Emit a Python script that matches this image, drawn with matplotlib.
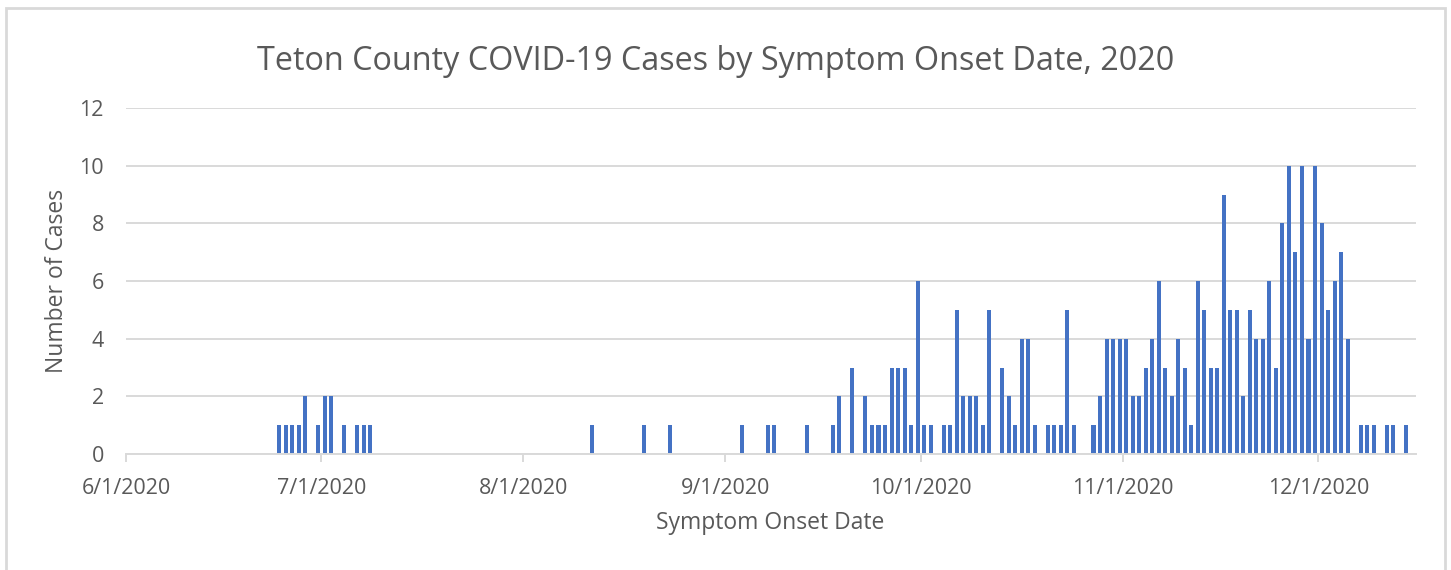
import datetime as dt

import matplotlib
matplotlib.use("Agg")
import matplotlib.pyplot as plt
import matplotlib.dates as mdates
from matplotlib.patches import Rectangle
from matplotlib.ticker import FuncFormatter

# cases per symptom onset date (days with no bar are 0)
onset_dates = [
    "2020-06-24", "2020-06-25", "2020-06-26", "2020-06-27", "2020-06-28", "2020-06-30",
    "2020-07-01", "2020-07-02", "2020-07-04", "2020-07-06", "2020-07-07", "2020-07-08",
    "2020-08-11", "2020-08-19", "2020-08-23",
    "2020-09-03", "2020-09-07", "2020-09-08", "2020-09-13", "2020-09-17", "2020-09-18",
    "2020-09-20", "2020-09-22", "2020-09-23", "2020-09-24", "2020-09-25", "2020-09-26",
    "2020-09-27", "2020-09-28", "2020-09-29", "2020-09-30",
    "2020-10-01", "2020-10-02", "2020-10-04", "2020-10-05", "2020-10-06", "2020-10-07",
    "2020-10-08", "2020-10-09", "2020-10-10", "2020-10-11", "2020-10-13", "2020-10-14",
    "2020-10-15", "2020-10-16", "2020-10-17", "2020-10-18", "2020-10-20", "2020-10-21",
    "2020-10-22", "2020-10-23", "2020-10-24", "2020-10-27", "2020-10-28", "2020-10-29",
    "2020-10-30", "2020-10-31",
    "2020-11-01", "2020-11-02", "2020-11-03", "2020-11-04", "2020-11-05", "2020-11-06",
    "2020-11-07", "2020-11-08", "2020-11-09", "2020-11-10", "2020-11-11", "2020-11-12",
    "2020-11-13", "2020-11-14", "2020-11-15", "2020-11-16", "2020-11-17", "2020-11-18",
    "2020-11-19", "2020-11-20", "2020-11-21", "2020-11-22", "2020-11-23", "2020-11-24",
    "2020-11-25", "2020-11-26", "2020-11-27", "2020-11-28", "2020-11-29", "2020-11-30",
    "2020-12-01", "2020-12-02", "2020-12-03", "2020-12-04", "2020-12-05", "2020-12-07",
    "2020-12-08", "2020-12-09", "2020-12-11", "2020-12-12", "2020-12-14",
]
cases = [
    1, 1, 1, 1, 2, 1,
    2, 2, 1, 1, 1, 1,
    1, 1, 1,
    1, 1, 1, 1, 1, 2,
    3, 2, 1, 1, 1, 3,
    3, 3, 1, 6,
    1, 1, 1, 1, 5, 2,
    2, 2, 1, 5, 3, 2,
    1, 4, 4, 1, 1, 1,
    1, 5, 1, 1, 2, 4,
    4, 4,
    4, 2, 2, 3, 4, 6,
    3, 2, 4, 3, 1, 6,
    5, 3, 3, 9, 5, 5,
    2, 5, 4, 4, 6, 3,
    8, 10, 7, 10, 4, 10,
    8, 5, 6, 7, 4, 1,
    1, 1, 1, 1, 1,
]

x_start = "2020-06-01"
x_end = "2020-12-16"
y_ticks = [0, 2, 4, 6, 8, 10, 12]

title = "Teton County COVID-19 Cases by Symptom Onset Date, 2020"
xlabel = "Symptom Onset Date"
ylabel = "Number of Cases"

BAR = "#4472c4"
GRID = "#d9d9d9"
TXT = "#595959"

plt.rcParams["font.family"] = ["Open Sans", "DejaVu Sans"]

W, H = 1451, 570
fig = plt.figure(figsize=(W / 100, H / 100), dpi=100)

# chart border (excel style)
fig.patches.append(Rectangle((6 / W, -0.05), 1439 / W, (H - 8) / H + 0.05,
                             transform=fig.transFigure, fill=False,
                             edgecolor="#d9d9d9", linewidth=2))

ax = fig.add_axes([126 / W, (H - 454) / H, 1290 / W, 346 / H])

days = [mdates.date2num(dt.datetime.fromisoformat(d)) + 0.5 for d in onset_dates]
ax.bar(days, cases, width=0.62, color=BAR, zorder=3)

ax.set_xlim(mdates.date2num(dt.datetime.fromisoformat(x_start)),
            mdates.date2num(dt.datetime.fromisoformat(x_end)))
ax.set_ylim(y_ticks[0], y_ticks[-1])
ax.set_yticks(y_ticks)

ax.xaxis.set_major_locator(mdates.MonthLocator())
ax.xaxis.set_major_formatter(FuncFormatter(
    lambda v, pos: "{d.month}/{d.day}/{d.year}".format(d=mdates.num2date(v))))

ax.grid(axis="y", color=GRID, linewidth=1.4, zorder=0)
for s in ["top", "right", "left"]:
    ax.spines[s].set_visible(False)
ax.spines["bottom"].set_color(GRID)
ax.spines["bottom"].set_linewidth(1.4)
ax.spines["bottom"].set_zorder(4)

ax.tick_params(axis="y", length=0, pad=16, labelsize=15.5, labelcolor=TXT)
ax.tick_params(axis="x", length=6, width=1.4, color=GRID, pad=11,
               labelsize=15.5, labelcolor=TXT)

fig.text(716 / W, 1 - 62 / H, title, ha="center", va="center",
         fontsize=23.3, color=TXT)
fig.text(770 / W, 1 - 523 / H, xlabel, ha="center", va="center",
         fontsize=16.5, color=TXT)
fig.text(57 / W, 1 - 281 / H, ylabel, ha="center", va="center",
         rotation=90, fontsize=16.5, color=TXT)

fig.savefig("out.png", dpi=100)
